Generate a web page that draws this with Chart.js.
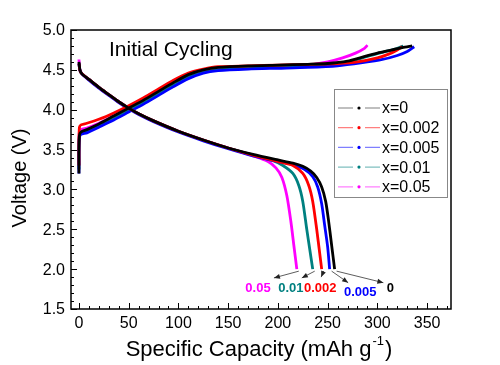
<!DOCTYPE html>
<html><head><meta charset="utf-8">
<script src="https://cdn.jsdelivr.net/npm/chart.js@4"></script>
<style>html,body{margin:0;padding:0;background:#fff}</style></head>
<body><canvas id="c" width="500" height="365"></canvas>
<script>
// ---- data ----
const seriesNames = ['x=0', 'x=0.002', 'x=0.005', 'x=0.01', 'x=0.05'];

const dis0Cap = [0, 1, 3, 10, 20, 30, 40, 50, 60, 75, 100, 125, 150, 175, 200, 215, 225, 233, 239, 244, 248, 251, 254, 257];
const dis0V   = [4.60, 4.50, 4.45, 4.38, 4.28, 4.19, 4.10, 4.02, 3.95, 3.86, 3.73, 3.62, 3.52, 3.44, 3.37, 3.33, 3.29, 3.23, 3.15, 3.03, 2.85, 2.60, 2.30, 2.00];
const dis1Cap = [0, 1, 3, 10, 20, 30, 40, 50, 60, 75, 100, 125, 150, 175, 200, 215, 225, 231, 235, 239, 242, 244];
const dis1V   = [4.58, 4.49, 4.45, 4.38, 4.28, 4.19, 4.10, 4.02, 3.95, 3.86, 3.73, 3.62, 3.52, 3.43, 3.35, 3.30, 3.20, 3.05, 2.85, 2.50, 2.20, 2.00];
const dis2Cap = [0, 1, 3, 10, 20, 30, 40, 50, 60, 75, 100, 125, 150, 175, 200, 215, 227, 235, 240, 244, 247, 250, 252];
const dis2V   = [4.58, 4.49, 4.45, 4.37, 4.27, 4.18, 4.09, 4.01, 3.94, 3.85, 3.72, 3.61, 3.51, 3.42, 3.35, 3.31, 3.25, 3.16, 3.03, 2.82, 2.55, 2.28, 2.00];
const dis3Cap = [0, 1, 3, 10, 20, 30, 40, 50, 60, 75, 100, 125, 150, 175, 195, 205, 215, 221, 225, 229, 232, 235];
const dis3V   = [4.58, 4.49, 4.45, 4.38, 4.28, 4.19, 4.10, 4.02, 3.95, 3.86, 3.73, 3.62, 3.52, 3.43, 3.36, 3.30, 3.20, 3.05, 2.85, 2.50, 2.25, 2.00];
const dis4Cap = [0, 0.5, 1, 3, 10, 20, 30, 40, 50, 60, 75, 100, 125, 150, 175, 190, 198, 204, 209, 213, 216, 219];
const dis4V   = [4.63, 4.55, 4.50, 4.45, 4.38, 4.28, 4.19, 4.10, 4.02, 3.95, 3.86, 3.73, 3.62, 3.52, 3.42, 3.35, 3.27, 3.15, 2.92, 2.60, 2.30, 2.00];

const chg0Cap = [0, 0, 0.5, 2, 8, 20, 35, 50, 65, 80, 95, 110, 125, 140, 170, 200, 230, 250, 270, 285, 300, 315, 325, 335];
const chg0V   = [3.20, 3.50, 3.68, 3.72, 3.75, 3.82, 3.92, 4.02, 4.12, 4.23, 4.34, 4.44, 4.50, 4.53, 4.55, 4.56, 4.57, 4.58, 4.61, 4.66, 4.71, 4.75, 4.78, 4.80];
const chg1Cap = [0, 0, 0.5, 2, 8, 20, 35, 50, 65, 80, 95, 110, 125, 140, 170, 200, 230, 260, 280, 300, 312, 320, 325];
const chg1V   = [3.30, 3.60, 3.78, 3.81, 3.83, 3.88, 3.96, 4.05, 4.15, 4.26, 4.37, 4.46, 4.51, 4.54, 4.55, 4.56, 4.57, 4.58, 4.60, 4.65, 4.70, 4.75, 4.79];
const chg2Cap = [0, 0, 0.5, 2, 8, 20, 35, 50, 65, 80, 95, 110, 125, 140, 170, 200, 230, 260, 285, 305, 320, 330, 337];
const chg2V   = [3.20, 3.50, 3.65, 3.69, 3.71, 3.78, 3.87, 3.97, 4.07, 4.18, 4.29, 4.39, 4.46, 4.49, 4.51, 4.52, 4.53, 4.55, 4.59, 4.63, 4.68, 4.73, 4.79];
const chg3Cap = [0, 0, 0.5, 2, 8, 20, 35, 50, 65, 80, 95, 110, 125, 140, 170, 200, 230, 260, 275, 290, 305, 318, 326];
const chg3V   = [3.25, 3.55, 3.68, 3.71, 3.73, 3.80, 3.89, 3.99, 4.09, 4.20, 4.31, 4.41, 4.47, 4.50, 4.52, 4.53, 4.54, 4.56, 4.61, 4.67, 4.72, 4.76, 4.80];
const chg4Cap = [0, 0, 0.5, 2, 8, 20, 35, 50, 65, 80, 95, 110, 125, 140, 170, 200, 225, 250, 265, 278, 287, 290];
const chg4V   = [3.30, 3.60, 3.72, 3.75, 3.77, 3.83, 3.92, 4.02, 4.13, 4.24, 4.36, 4.45, 4.49, 4.51, 4.52, 4.53, 4.55, 4.60, 4.65, 4.71, 4.77, 4.81];

const xMajorTicks = [0, 50, 100, 150, 200, 250, 300, 350];
const yMajorTicks = [1.5, 2.0, 2.5, 3.0, 3.5, 4.0, 4.5, 5.0];

// annotation labels (in data units): label centre and arrow tip
const annoText  = ['0.05', '0.01', '0.002', '0.005', '0'];
const annoCap   = [180, 213, 242.5, 282.7, 313];
const annoV     = [1.76, 1.76, 1.76, 1.71, 1.76];
const annoTipCap = [196, 224, 243.5, 270.6, 306];
const annoTipV   = [1.89, 1.89, 1.90, 1.83, 1.83];
const annoSeries = [4, 3, 1, 2, 0];

// ---- styles ----
const colors = ['#000000', '#ff0000', '#0000ff', '#008080', '#ff00ff'];
const disCaps = [dis0Cap, dis1Cap, dis2Cap, dis3Cap, dis4Cap];
const disVs = [dis0V, dis1V, dis2V, dis3V, dis4V];
const chgCaps = [chg0Cap, chg1Cap, chg2Cap, chg3Cap, chg4Cap];
const chgVs = [chg0V, chg1V, chg2V, chg3V, chg4V];

const zip = (a, b) => a.map((v, i) => ({x: v, y: b[i]}));
const datasets = [];
seriesNames.forEach((n, i) => {
  const base = {borderColor: colors[i], backgroundColor: colors[i], borderWidth: 2.8, pointRadius: 0, showLine: true, tension: 0.25, fill: false};
  datasets.push(Object.assign({label: n, data: zip(disCaps[i], disVs[i])}, base));
  datasets.push(Object.assign({label: n + ' charge', data: zip(chgCaps[i], chgVs[i])}, base));
});

const FONT = '"Liberation Sans", Arial, sans-serif';

const deco = {
  id: 'deco',
  afterDraw(chart) {
    const c = chart.ctx, a = chart.chartArea, sx = chart.scales.x, sy = chart.scales.y;
    c.save();
    // frame
    c.strokeStyle = '#000'; c.lineWidth = 1.5;
    c.strokeRect(a.left, a.top, a.right - a.left, a.bottom - a.top);
    // ticks
    c.lineWidth = 1;
    c.beginPath();
    for (let v = 0; v <= 370; v += 10) {
      const px = Math.round(sx.getPixelForValue(v)) + 0.5;
      const len = (v % 50 === 0) ? 6 : 3;
      c.moveTo(px, a.bottom); c.lineTo(px, a.bottom - len);
    }
    for (let i = 15; i <= 50; i++) {
      const py = Math.round(sy.getPixelForValue(i / 10)) + 0.5;
      const len = (i % 5 === 0) ? 6 : 3;
      c.moveTo(a.left, py); c.lineTo(a.left + len, py);
    }
    c.stroke();
    // tick labels
    c.fillStyle = '#000';
    c.font = '16px ' + FONT;
    c.textAlign = 'center'; c.textBaseline = 'middle';
    xMajorTicks.forEach(v => c.fillText(String(v), sx.getPixelForValue(v), a.bottom + 15));
    c.textAlign = 'right';
    yMajorTicks.forEach(v => c.fillText(v.toFixed(1), a.left - 6, sy.getPixelForValue(v) + 1));
    // axis titles
    c.font = '20px ' + FONT;
    c.save();
    c.translate(20, 178); c.rotate(-Math.PI / 2);
    c.textAlign = 'center'; c.fillText('Voltage (V)', 0, 0);
    c.restore();
    c.font = '22px ' + FONT;
    c.textAlign = 'left';
    const t1 = 'Specific Capacity (mAh g', sup = '-1', t2 = ')';
    const w1 = c.measureText(t1).width;
    c.font = '13px ' + FONT;
    const ws = c.measureText(sup).width;
    c.font = '22px ' + FONT;
    const w2 = c.measureText(t2).width;
    let x0 = 258 - (w1 + ws + w2) / 2;
    const ty = 350;
    c.fillText(t1, x0, ty);
    c.font = '13px ' + FONT; c.fillText(sup, x0 + w1 + 1, ty - 9);
    c.font = '22px ' + FONT; c.fillText(t2, x0 + w1 + ws + 2, ty);
    // inner title
    c.font = '21px ' + FONT;
    c.fillText('Initial Cycling', 109, 50);
    // legend
    c.strokeStyle = '#888'; c.lineWidth = 1;
    c.strokeRect(334.5, 89.5, 113, 108);
    c.font = '16px ' + FONT;
    seriesNames.forEach((n, i) => {
      const y = 108 + i * 19.7;
      c.save();
      c.globalAlpha = 0.5; c.strokeStyle = colors[i]; c.lineWidth = 1.2;
      c.beginPath(); c.moveTo(338, y); c.lineTo(353, y); c.moveTo(365, y); c.lineTo(380, y); c.stroke();
      c.restore();
      c.fillStyle = colors[i];
      c.beginPath(); c.arc(359, y, 1.6, 0, Math.PI * 2); c.fill();
      c.fillStyle = '#000';
      c.textAlign = 'left';
      c.fillText(n, 382, y + 1);
    });
    // annotations
    c.font = 'bold 13px ' + FONT;
    c.textAlign = 'center';
    annoText.forEach((t, k) => {
      const si = annoSeries[k];
      const caps = disCaps[si], vs = disVs[si];
      const x1 = sx.getPixelForValue(caps[caps.length - 1]) + 2;
      const y1 = sy.getPixelForValue(vs[vs.length - 1]) + 2;
      const x2 = sx.getPixelForValue(annoTipCap[k]);
      const y2 = sy.getPixelForValue(annoTipV[k]);
      c.strokeStyle = '#333'; c.fillStyle = '#222'; c.lineWidth = 0.8;
      c.beginPath(); c.moveTo(x1, y1); c.lineTo(x2, y2); c.stroke();
      const ang = Math.atan2(y2 - y1, x2 - x1);
      c.beginPath();
      c.moveTo(x2, y2);
      c.lineTo(x2 - 6 * Math.cos(ang) + 2.5 * Math.sin(ang), y2 - 6 * Math.sin(ang) - 2.5 * Math.cos(ang));
      c.lineTo(x2 - 6 * Math.cos(ang) - 2.5 * Math.sin(ang), y2 - 6 * Math.sin(ang) + 2.5 * Math.cos(ang));
      c.closePath(); c.fill();
      c.fillStyle = colors[si];
      c.fillText(t, sx.getPixelForValue(annoCap[k]), sy.getPixelForValue(annoV[k]));
    });
    c.restore();
  }
};

new Chart(document.getElementById('c').getContext('2d'), {
  type: 'scatter',
  data: {datasets},
  options: {
    responsive: false, animation: false, events: [],
    layout: {padding: {left: 71, right: 49, top: 30, bottom: 56}},
    plugins: {legend: {display: false}, tooltip: {enabled: false}},
    scales: {
      x: {display: false, min: -8, max: 374},
      y: {display: false, min: 1.5, max: 5.0}
    }
  },
  plugins: [deco]
});
</script>
</body></html>
